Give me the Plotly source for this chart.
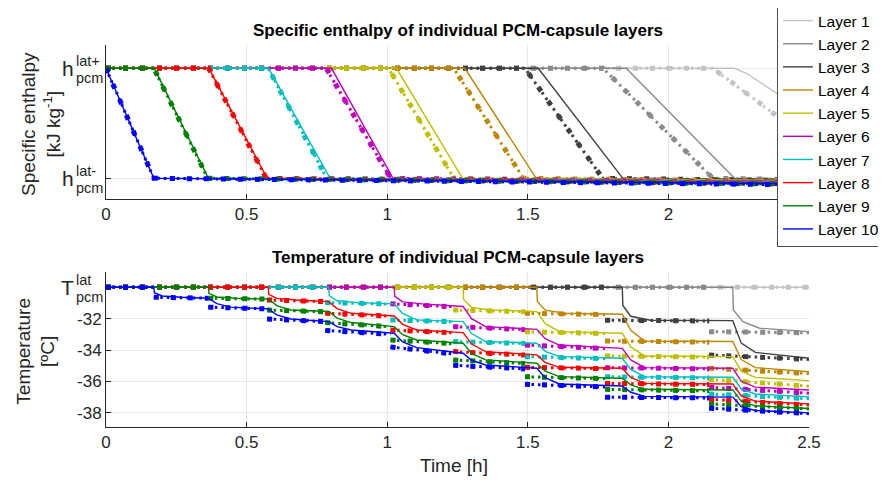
import plotly.graph_objects as go

# ---------------- data ----------------
layer_names = ["Layer 1", "Layer 2", "Layer 3", "Layer 4", "Layer 5",
               "Layer 6", "Layer 7", "Layer 8", "Layer 9", "Layer 10"]
layer_colors = ["#c4c4c4", "#8a8a8a", "#404040", "#bf8600", "#bfbf00",
                "#bf00bf", "#00bfbf", "#ff0000", "#008000", "#0000ff"]

x_ticks_top = [0, 0.5, 1, 1.5, 2]
x_ticklabels_top = ["0", "0.5", "1", "1.5", "2"]
x_ticks = [0, 0.5, 1, 1.5, 2, 2.5]
x_ticklabels = ["0", "0.5", "1", "1.5", "2", "2.5"]
h_ticks = [0, 1]                       # h_pcm^lat- , h_pcm^lat+
T_ticks = [-38, -36, -34, -32]
T_ticklabels = ["-38", "-36", "-34", "-32"]
T_lat = -30

# Specific enthalpy, simulation (solid lines), normalised: 1 = h^lat+, 0 = h^lat-
h_sim_t = [
    [0, 2.235, 2.277, 2.5],
    [0, 1.850, 2.235, 2.5],
    [0, 1.537, 1.838, 2.5],
    [0, 1.276, 1.530, 2.5],
    [0, 1.033, 1.268, 2.5],
    [0, 0.802, 1.021, 2.5],
    [0, 0.578, 0.797, 2.5],
    [0, 0.366, 0.573, 2.5],
    [0, 0.172, 0.364, 2.5],
    [0, 0.170, 2.5],
]
h_sim_v = [
    [1, 1, 0.955, 0.58],
    [1, 1, 0, -0.008],
    [1, 1, 0, -0.015],
    [1, 1, 0, -0.02],
    [1, 1, 0, -0.025],
    [1, 1, 0, -0.03],
    [1, 1, 0, -0.035],
    [1, 1, 0, -0.04],
    [1, 1, 0, -0.045],
    [1, 0, -0.05],
]
# Specific enthalpy, measured (dotted markers)
h_meas_t = [
    [0, 2.158, 2.5],
    [0, 1.768, 2.158, 2.5],
    [0, 1.490, 1.766, 2.5],
    [0, 1.237, 1.484, 2.5],
    [0, 1.005, 1.237, 2.5],
    [0, 0.783, 1.012, 2.5],
    [0, 0.577, 0.785, 2.5],
    [0, 0.365, 0.570, 2.5],
    [0, 0.170, 0.362, 2.5],
    [0, 0.170, 2.5],
]
h_meas_v = [
    [1, 1, 0.35],
    [1, 1, 0, -0.012],
    [1, 1, 0, -0.022],
    [1, 1, 0, -0.03],
    [1, 1, 0, -0.035],
    [1, 1, 0, -0.04],
    [1, 1, 0, -0.045],
    [1, 1, 0, -0.05],
    [1, 1, 0, -0.055],
    [1, 0, -0.06],
]

# Temperature, simulation (solid lines) [degC]
T_sim_t = [
    [0, 2.5],
    [0, 2.229, 2.231, 2.265, 2.324, 2.5],
    [0, 1.836, 1.838, 1.866, 1.936, 2.229, 2.259, 2.309, 2.5],
    [0, 1.532, 1.534, 1.562, 1.632, 1.836, 1.866, 1.916, 2.229, 2.259, 2.309, 2.5],
    [0, 1.270, 1.272, 1.300, 1.370, 1.532, 1.562, 1.612, 1.836, 1.866, 1.916,
     2.229, 2.259, 2.309, 2.5],
    [0, 1.025, 1.027, 1.055, 1.125, 1.270, 1.300, 1.350, 1.532, 1.562, 1.612,
     1.836, 1.866, 1.916, 2.229, 2.259, 2.309, 2.5],
    [0, 0.792, 0.794, 0.822, 0.892, 1.025, 1.055, 1.105, 1.270, 1.300, 1.350,
     1.532, 1.562, 1.612, 1.836, 1.866, 1.916, 2.229, 2.259, 2.309, 2.5],
    [0, 0.577, 0.579, 0.607, 0.677, 0.792, 0.822, 0.872, 1.025, 1.055, 1.105,
     1.270, 1.300, 1.350, 1.532, 1.562, 1.612, 1.836, 1.866, 1.916, 2.229,
     2.259, 2.309, 2.5],
    [0, 0.364, 0.366, 0.394, 0.464, 0.577, 0.607, 0.657, 0.792, 0.822, 0.872,
     1.025, 1.055, 1.105, 1.270, 1.300, 1.350, 1.532, 1.562, 1.612, 1.836,
     1.866, 1.916, 2.229, 2.259, 2.309, 2.5],
    [0, 0.170, 0.172, 0.200, 0.270, 0.364, 0.394, 0.444, 0.577, 0.607, 0.657,
     0.792, 0.822, 0.872, 1.025, 1.055, 1.105, 1.270, 1.300, 1.350, 1.532,
     1.562, 1.612, 1.836, 1.866, 1.916, 2.229, 2.259, 2.309, 2.5],
]
T_sim_v = [
    [-30, -30],
    [-30, -30, -31.45, -32.19, -32.61, -32.83],
    [-30, -30, -31.16, -31.85, -32.10, -32.13, -33.56, -34.15, -34.52],
    [-30, -30, -30.91, -31.46, -31.66, -31.72, -32.74, -33.42, -33.46, -34.61,
     -35.12, -35.38],
    [-30, -30, -30.80, -31.28, -31.45, -31.55, -32.32, -32.83, -32.93, -33.80,
     -34.38, -34.42, -35.34, -35.74, -35.95],
    [-30, -30, -30.58, -30.93, -31.06, -31.23, -32.00, -32.51, -32.68, -33.28,
     -33.68, -33.89, -34.63, -35.12, -35.16, -35.99, -36.36, -36.54],
    [-30, -30, -30.54, -30.86, -30.98, -31.06, -31.67, -32.08, -32.19, -32.95,
     -33.46, -33.57, -34.08, -34.42, -34.52, -35.23, -35.70, -35.73, -36.47,
     -36.80, -36.97],
    [-30, -30, -30.45, -30.71, -30.81, -30.92, -31.36, -31.66, -31.83, -32.36,
     -32.72, -32.89, -33.62, -34.10, -34.31, -34.78, -35.10, -35.16, -35.74,
     -36.12, -36.16, -36.92, -37.25, -37.43],
    [-30, -30, -30.39, -30.62, -30.70, -30.75, -31.17, -31.45, -31.55, -31.97,
     -32.25, -32.51, -33.02, -33.36, -33.57, -34.21, -34.63, -34.84, -35.35,
     -35.69, -35.80, -36.22, -36.50, -36.54, -37.25, -37.55, -37.72],
    [-30, -30, -30.35, -30.56, -30.64, -30.70, -31.04, -31.27, -31.38, -31.76,
     -32.02, -32.19, -32.51, -32.72, -32.93, -33.48, -33.85, -34.20, -34.65,
     -34.95, -35.16, -35.76, -36.16, -36.29, -36.69, -36.95, -37.00, -37.60,
     -37.85, -38.00],
]

# Temperature, measured (dotted markers): step times of the measured jumps
T_meas_steps = [0.170, 0.364, 0.573, 0.780, 1.012, 1.235, 1.490, 1.775, 2.145]
# value at start / end of every constant segment, per layer
T_meas_a = [
    [-30],
    [-30, -32.83],
    [-30, -32.10, -34.31],
    [-30, -31.66, -33.42, -35.16],
    [-30, -31.45, -32.83, -34.38, -35.86],
    [-30, -31.06, -32.51, -33.68, -35.12, -36.37],
    [-30, -30.98, -32.08, -33.46, -34.42, -35.70, -36.80],
    [-30, -30.81, -31.66, -32.72, -34.10, -35.10, -36.12, -37.13],
    [-30, -30.70, -31.45, -32.25, -33.36, -34.63, -35.70, -36.50, -37.43],
    [-30, -30.64, -31.27, -32.02, -32.75, -33.80, -34.97, -36.18, -37.00, -37.70],
]
T_meas_b = [
    [-30],
    [-30, -32.90],
    [-30, -32.15, -34.60],
    [-30, -31.74, -33.50, -35.50],
    [-30, -31.56, -32.95, -34.45, -36.30],
    [-30, -31.24, -32.70, -33.90, -35.20, -36.75],
    [-30, -31.07, -32.20, -33.58, -34.55, -35.78, -37.10],
    [-30, -30.92, -31.84, -32.90, -34.32, -35.18, -36.20, -37.50],
    [-30, -30.76, -31.56, -32.52, -33.60, -34.86, -35.82, -36.60, -37.75],
    [-30, -30.70, -31.38, -32.19, -33.00, -34.25, -35.20, -36.35, -37.05, -38.05],
]

# ---------------- figure ----------------
FONT = "Liberation Sans"
TXT = "#262626"
GRID = "#e6e6e6"

fig = go.Figure()


def add_meas(x, y, color, xa, ya):
    fig.add_trace(go.Scatter(x=x, y=y, mode="lines", xaxis=xa, yaxis=ya,
                             line=dict(color=color, width=3, dash="2.5px,4px"),
                             showlegend=False, hoverinfo="skip"))
    fig.add_trace(go.Scatter(x=x, y=y, mode="lines", xaxis=xa, yaxis=ya,
                             line=dict(color=color, width=5, dash="5px,12px"),
                             showlegend=False, hoverinfo="skip"))


for i in range(10):
    c = layer_colors[i]
    # top: enthalpy
    fig.add_trace(go.Scatter(x=h_sim_t[i], y=h_sim_v[i], mode="lines",
                             name=layer_names[i], legendgroup=layer_names[i],
                             line=dict(color=c, width=1.4), xaxis="x", yaxis="y"))
    add_meas(h_meas_t[i], h_meas_v[i], c, "x", "y")
    # bottom: temperature
    fig.add_trace(go.Scatter(x=T_sim_t[i], y=T_sim_v[i], mode="lines",
                             legendgroup=layer_names[i], showlegend=False,
                             line=dict(color=c, width=1.4), xaxis="x2", yaxis="y2"))
    bounds = [0] + T_meas_steps[len(T_meas_steps) - len(T_meas_a[i]) + 1:] + [2.5]
    mx, my = [], []
    for k in range(len(T_meas_a[i])):
        mx += [bounds[k], bounds[k + 1], None]
        my += [T_meas_a[i][k], T_meas_b[i][k], None]
    add_meas(mx, my, c, "x2", "y2")

axis_common = dict(range=[0, 2.5], showgrid=True, gridcolor=GRID, gridwidth=1,
                   zeroline=False, showline=True, linecolor=TXT, linewidth=1,
                   ticks="inside", ticklen=5, tickcolor=TXT,
                   tickfont=dict(family=FONT, size=17, color=TXT))

# the page body adds an 8 px offset: the figure is 8 px smaller and margins shifted
fig.update_layout(
    width=878, height=475,
    margin=dict(l=98, r=77, t=37, b=56, autoexpand=False),
    paper_bgcolor="white", plot_bgcolor="white",
    font=dict(family=FONT, color=TXT),
    xaxis=dict(domain=[0, 1], anchor="y", tickvals=x_ticks_top,
               ticktext=x_ticklabels_top, **axis_common),
    yaxis=dict(domain=[0.5969, 1], anchor="x", range=[-0.188, 1.212],
               tickvals=h_ticks, showticklabels=False, showgrid=True, gridcolor=GRID,
               zeroline=False, showline=True, linecolor=TXT, linewidth=1,
               ticks="inside", ticklen=5, tickcolor=TXT),
    xaxis2=dict(domain=[0, 1], anchor="y2", tickvals=x_ticks,
                ticktext=x_ticklabels, **axis_common),
    yaxis2=dict(domain=[0, 0.4058], anchor="x2", range=[-38.9, -29.03],
                tickvals=T_ticks, ticktext=T_ticklabels, showgrid=True, gridcolor=GRID,
                zeroline=False, showline=True, linecolor=TXT, linewidth=1,
                ticks="inside", ticklen=5, tickcolor=TXT,
                tickfont=dict(family=FONT, size=17, color=TXT)),
    legend=dict(x=1.1081, xanchor="right", y=1.11, yanchor="top",
                bgcolor="white", bordercolor="#4d4d4d", borderwidth=1,
                font=dict(family=FONT, size=15.5, color="black"),
                itemwidth=30, tracegroupgap=0, maxheight=400),
    showlegend=True,
)

ann = []
# titles
ann.append(dict(text="<b>Specific enthalpy of individual PCM-capsule layers</b>",
                xref="paper", yref="paper", x=0.5, y=1.039, showarrow=False,
                font=dict(family=FONT, size=17, color="black"), yanchor="middle"))
ann.append(dict(text="<b>Temperature of individual PCM-capsule layers</b>",
                xref="paper", yref="paper", x=0.5, y=0.445, showarrow=False,
                font=dict(family=FONT, size=17, color="black"), yanchor="middle"))
# axis titles
ann.append(dict(text="Specific enthalpy<br>[kJ kg<sup>-1</sup>]", textangle=-90,
                xref="paper", yref="paper", x=-0.0925, y=0.793, showarrow=False,
                font=dict(family=FONT, size=19, color=TXT), xanchor="center", yanchor="middle"))
ann.append(dict(text="Temperature<br>[ºC]", textangle=-90,
                xref="paper", yref="paper", x=-0.1, y=0.199, showarrow=False,
                font=dict(family=FONT, size=19, color=TXT), xanchor="center", yanchor="middle"))
ann.append(dict(text="Time [h]", xref="paper", yref="paper", x=0.495, y=-0.102,
                showarrow=False, font=dict(family=FONT, size=19, color=TXT),
                xanchor="center", yanchor="middle"))
# stacked super/subscript tick labels
xs_main = (76 - 106) / 703
xs_scr = (74 - 106) / 703
for yv, sup, yref, base in [(1, "lat+", "y", "h"), (0, "lat-", "y", "h"),
                             (T_lat, "lat", "y2", "T")]:
    ann.append(dict(text=base, xref="paper", yref=yref, x=xs_main, y=yv,
                    xanchor="right", yanchor="middle", yshift=0, showarrow=False,
                    font=dict(family=FONT, size=21, color=TXT)))
    ann.append(dict(text=sup, xref="paper", yref=yref, x=xs_scr, y=yv,
                    xanchor="left", yanchor="middle", yshift=7, showarrow=False,
                    font=dict(family=FONT, size=14.5, color=TXT)))
    ann.append(dict(text="pcm", xref="paper", yref=yref, x=xs_scr, y=yv,
                    xanchor="left", yanchor="middle", yshift=-10, showarrow=False,
                    font=dict(family=FONT, size=14.5, color=TXT)))
fig.update_layout(annotations=ann)

fig.write_html("out.html")
